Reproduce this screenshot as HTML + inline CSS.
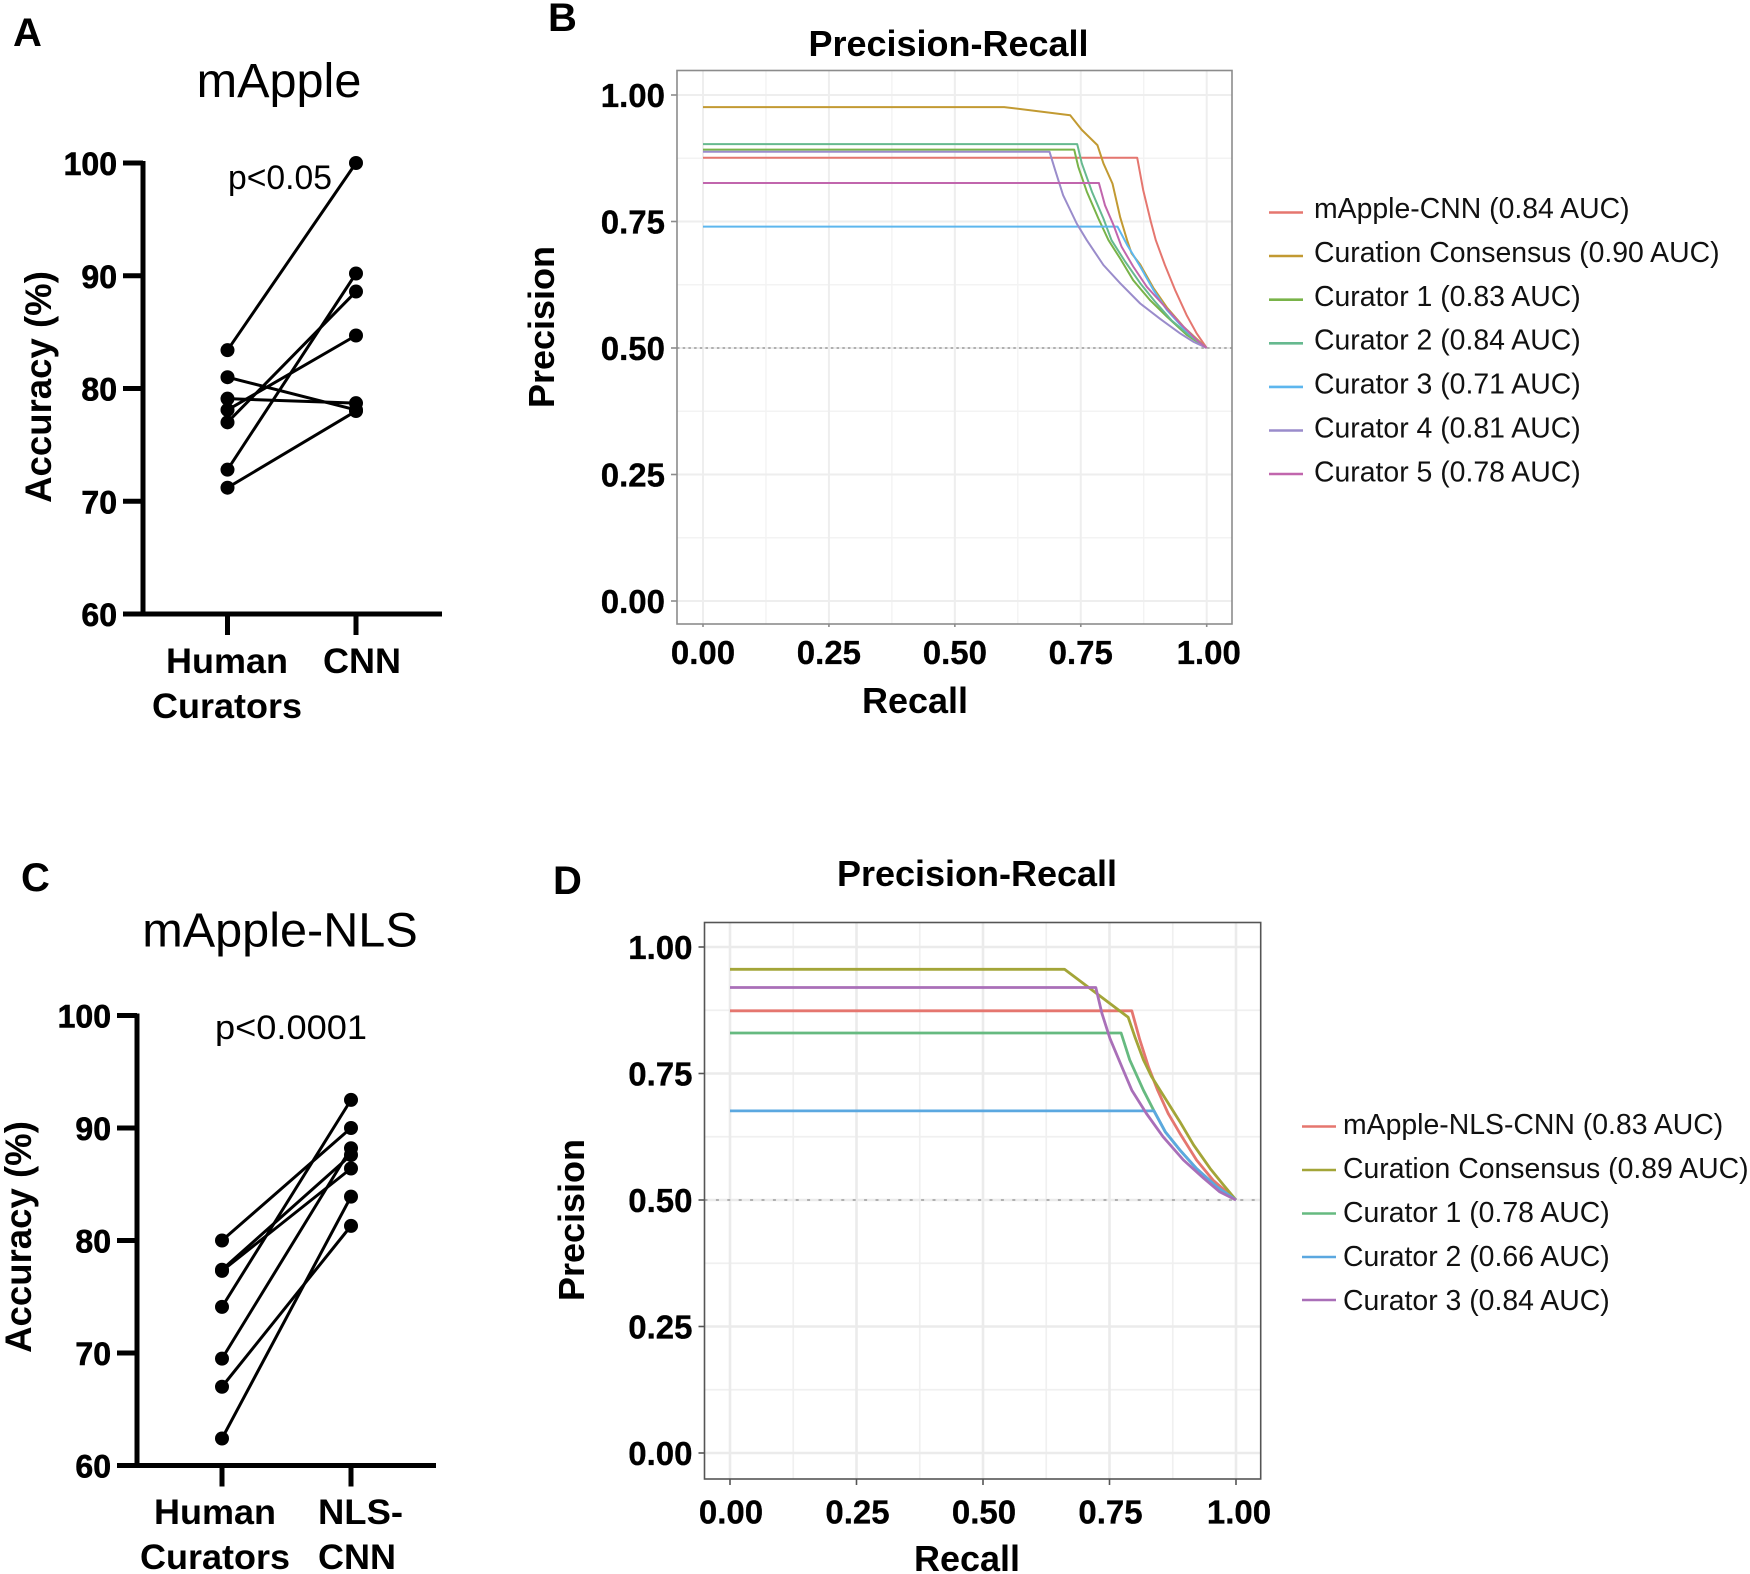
<!DOCTYPE html>
<html lang="en">
<head>
<meta charset="utf-8">
<title>Precision-Recall figure</title>
<style>
html,body{margin:0;padding:0;background:#fff;width:1750px;height:1574px;overflow:hidden}
svg{display:block}
text{font-family:"Liberation Sans",Arial,sans-serif;fill:#000}
.b{font-weight:700}
.tk{font-weight:700;font-size:33px;stroke:#000;stroke-width:.3px}
.at{font-weight:700;font-size:36px}
.pk{font-weight:700;font-size:32px;stroke:#000;stroke-width:.6px}
.leg{font-size:28.4px;fill:#111}
.let{font-weight:700;font-size:40px}
.ttl{font-size:48.6px}
</style>
</head>
<body>
<svg id="fig" xmlns="http://www.w3.org/2000/svg" width="1750" height="1574" viewBox="0 0 1750 1574">
  <rect x="0" y="0" width="1750" height="1574" fill="#fff"/>

  <!-- Panel letters -->
  <text class="let" x="13" y="46">A</text>
  <text class="let" x="548" y="31">B</text>
  <text class="let" x="21" y="891">C</text>
  <text class="let" x="553" y="894">D</text>

  <!-- Panel A text -->
  <g id="panelA">
    <text class="ttl" x="279" y="97" text-anchor="middle">mApple</text>
    <text x="228" y="189" font-size="34" textLength="104" lengthAdjust="spacingAndGlyphs">p&lt;0.05</text>
    <text class="b" font-size="36.6" transform="translate(51 387) rotate(-90)" text-anchor="middle">Accuracy (%)</text>
    <text class="b" font-size="35" x="166" y="673" textLength="122" lengthAdjust="spacingAndGlyphs">Human</text>
    <text class="b" font-size="35" x="152" y="718" textLength="150" lengthAdjust="spacingAndGlyphs">Curators</text>
    <text class="b" font-size="35" x="323" y="673" textLength="78" lengthAdjust="spacingAndGlyphs">CNN</text>
  </g>

  <!-- Panel C text -->
  <g id="panelC">
    <text class="ttl" x="280" y="946.5" text-anchor="middle">mApple-NLS</text>
    <text x="215" y="1039" font-size="34" textLength="152" lengthAdjust="spacingAndGlyphs">p&lt;0.0001</text>
    <text class="b" font-size="36.6" transform="translate(31 1237) rotate(-90)" text-anchor="middle">Accuracy (%)</text>
    <text class="b" font-size="35" x="154" y="1524" textLength="122" lengthAdjust="spacingAndGlyphs">Human</text>
    <text class="b" font-size="35" x="140" y="1569" textLength="150" lengthAdjust="spacingAndGlyphs">Curators</text>
    <text class="b" font-size="35" x="318" y="1524" textLength="85" lengthAdjust="spacingAndGlyphs">NLS-</text>
    <text class="b" font-size="35" x="318" y="1569" textLength="78" lengthAdjust="spacingAndGlyphs">CNN</text>
  </g>

  <!-- Panel B text -->
  <g id="panelB">
    <text class="at" x="948.5" y="56" text-anchor="middle">Precision-Recall</text>
    <text class="at" x="915" y="713" text-anchor="middle">Recall</text>
    <text class="at" transform="translate(554 327) rotate(-90)" text-anchor="middle">Precision</text>
  </g>

  <!-- Panel D text -->
  <g id="panelD">
    <text class="at" x="977" y="886" text-anchor="middle">Precision-Recall</text>
    <text class="at" x="967" y="1571" text-anchor="middle">Recall</text>
    <text class="at" transform="translate(584 1220) rotate(-90)" text-anchor="middle">Precision</text>
  </g>

  <!-- Legend B -->
  <g stroke-width="2.6" fill="none">
    <g><line x1="1269" x2="1303" y1="212.5" y2="212.5" stroke="#e5766f"/><text class="leg" x="1314" y="218">mApple-CNN (0.84 AUC)</text></g>
    <g><line x1="1269" x2="1303" y1="256" y2="256" stroke="#c29a32"/><text class="leg" x="1314" y="262">Curation Consensus (0.90 AUC)</text></g>
    <g><line x1="1269" x2="1303" y1="299.7" y2="299.7" stroke="#79b349"/><text class="leg" x="1314" y="306">Curator 1 (0.83 AUC)</text></g>
    <g><line x1="1269" x2="1303" y1="343.3" y2="343.3" stroke="#66b98f"/><text class="leg" x="1314" y="349.5">Curator 2 (0.84 AUC)</text></g>
    <g><line x1="1269" x2="1303" y1="386.9" y2="386.9" stroke="#5db6ee"/><text class="leg" x="1314" y="393.5">Curator 3 (0.71 AUC)</text></g>
    <g><line x1="1269" x2="1303" y1="430.5" y2="430.5" stroke="#9a8ccb"/><text class="leg" x="1314" y="437.5">Curator 4 (0.81 AUC)</text></g>
    <g><line x1="1269" x2="1303" y1="474" y2="474" stroke="#c166ad"/><text class="leg" x="1314" y="481.5">Curator 5 (0.78 AUC)</text></g>
  </g>

  <!-- Legend D -->
  <g stroke-width="2.6" fill="none">
    <g><line x1="1302" x2="1336" y1="1126.5" y2="1126.5" stroke="#e5766f"/><text class="leg" x="1343" y="1134">mApple-NLS-CNN (0.83 AUC)</text></g>
    <g><line x1="1302" x2="1336" y1="1170" y2="1170" stroke="#a3a538"/><text class="leg" x="1343" y="1178">Curation Consensus (0.89 AUC)</text></g>
    <g><line x1="1302" x2="1336" y1="1213.5" y2="1213.5" stroke="#66ba80"/><text class="leg" x="1343" y="1222">Curator 1 (0.78 AUC)</text></g>
    <g><line x1="1302" x2="1336" y1="1257" y2="1257" stroke="#5ba8e0"/><text class="leg" x="1343" y="1266">Curator 2 (0.66 AUC)</text></g>
    <g><line x1="1302" x2="1336" y1="1300" y2="1300" stroke="#a96fb8"/><text class="leg" x="1343" y="1310">Curator 3 (0.84 AUC)</text></g>
  </g>
</svg>

<script>
// ---------- Panel A data ----------
const aTickLabels = ["100", "90", "80", "70", "60"];
const aTickValues = [100, 90, 80, 70, 60];
const aHuman = [83.4, 72.8, 77.0, 78.1, 81.0, 79.1, 71.2];
const aCnn = [100, 90.2, 88.6, 84.7, 78.1, 78.7, 78.0];

// ---------- Panel C data ----------
const cTickLabels = ["100", "90", "80", "70", "60"];
const cTickValues = [100, 90, 80, 70, 60];
const cHuman = [80.0, 77.4, 77.3, 74.1, 69.5, 67.0, 62.4];
const cCnn = [90.0, 87.6, 86.4, 92.5, 88.2, 81.3, 83.9];

// ---------- Precision-recall tick labels ----------
const prTickValues = [0, 0.25, 0.5, 0.75, 1];
const prTickLabels = ["0.00", "0.25", "0.50", "0.75", "1.00"];
const prMinorValues = [0.125, 0.375, 0.625, 0.875];
const prBaseline = 0.5;

// ---------- Panel B series ----------
const bCnnRecall = [0, 0.862, 0.874, 0.889, 0.899, 0.917, 0.937, 0.960, 0.980, 1];
const bCnnPrecision = [0.876, 0.876, 0.812, 0.750, 0.713, 0.664, 0.615, 0.565, 0.529, 0.5];
const bConsensusRecall = [0, 0.598, 0.729, 0.752, 0.783, 0.795, 0.813, 0.828, 0.842, 0.851, 0.868, 0.894, 0.921, 0.954, 0.980, 1];
const bConsensusPrecision = [0.976, 0.976, 0.960, 0.931, 0.901, 0.865, 0.825, 0.759, 0.713, 0.687, 0.665, 0.619, 0.580, 0.542, 0.518, 0.5];
const bCurator1Recall = [0, 0.737, 0.745, 0.762, 0.785, 0.805, 0.828, 0.854, 0.887, 0.921, 0.960, 1];
const bCurator1Precision = [0.892, 0.892, 0.858, 0.809, 0.756, 0.713, 0.677, 0.634, 0.595, 0.562, 0.526, 0.5];
const bCurator2Recall = [0, 0.743, 0.752, 0.772, 0.795, 0.811, 0.838, 0.868, 0.897, 0.930, 0.964, 1];
const bCurator2Precision = [0.903, 0.903, 0.865, 0.809, 0.756, 0.713, 0.671, 0.628, 0.592, 0.555, 0.526, 0.5];
const bCurator3Recall = [0, 0.823, 0.842, 0.868, 0.894, 0.921, 0.954, 0.980, 1];
const bCurator3Precision = [0.740, 0.740, 0.704, 0.661, 0.615, 0.575, 0.539, 0.516, 0.5];
const bCurator4Recall = [0, 0.688, 0.699, 0.715, 0.742, 0.762, 0.795, 0.828, 0.868, 0.907, 0.947, 0.974, 1];
const bCurator4Precision = [0.888, 0.888, 0.852, 0.802, 0.746, 0.713, 0.664, 0.628, 0.588, 0.558, 0.529, 0.512, 0.5];
const bCurator5Recall = [0, 0.786, 0.798, 0.815, 0.831, 0.854, 0.881, 0.914, 0.947, 0.980, 1];
const bCurator5Precision = [0.826, 0.826, 0.782, 0.743, 0.700, 0.661, 0.621, 0.585, 0.549, 0.516, 0.5];

// ---------- Panel D series ----------
const dCnnRecall = [0, 0.794, 0.810, 0.827, 0.845, 0.866, 0.889, 0.922, 0.955, 1];
const dCnnPrecision = [0.874, 0.874, 0.816, 0.763, 0.717, 0.671, 0.632, 0.579, 0.539, 0.5];
const dConsensusRecall = [0, 0.661, 0.787, 0.800, 0.817, 0.833, 0.850, 0.889, 0.916, 0.949, 0.975, 1];
const dConsensusPrecision = [0.956, 0.956, 0.861, 0.823, 0.777, 0.744, 0.717, 0.655, 0.609, 0.562, 0.530, 0.5];
const dCurator1Recall = [0, 0.773, 0.790, 0.817, 0.838, 0.860, 0.889, 0.922, 0.962, 1];
const dCurator1Precision = [0.830, 0.830, 0.777, 0.717, 0.676, 0.635, 0.599, 0.562, 0.526, 0.5];
const dCurator2Recall = [0, 0.838, 0.860, 0.889, 0.922, 0.962, 1];
const dCurator2Precision = [0.676, 0.676, 0.635, 0.599, 0.562, 0.526, 0.5];
const dCurator3Recall = [0, 0.723, 0.735, 0.751, 0.777, 0.794, 0.823, 0.856, 0.896, 0.936, 0.968, 1];
const dCurator3Precision = [0.920, 0.920, 0.869, 0.819, 0.757, 0.717, 0.671, 0.625, 0.579, 0.543, 0.516, 0.5];

// ---------- Helpers ----------
const SVGNS = "http://www.w3.org/2000/svg";
function mk(tag, parent, attrs) {
  const el = document.createElementNS(SVGNS, tag);
  for (const k in attrs) el.setAttribute(k, attrs[k]);
  parent.appendChild(el);
  return el;
}
function linearScale(v0, p0, v1, p1) {
  return function (v) { return p0 + (v - v0) * (p1 - p0) / (v1 - v0); };
}

// ---------- Paired accuracy charts ----------
function drawPaired(host, prefix, geom, tickValues, tickLabels, left, right) {
  const y = linearScale(100, geom.yTop, 60, geom.yBottom);
  const x = linearScale(0, geom.x0, 1, geom.x1);
  const axisColor = "#000";

  const yAxis = mk("line", host, { x1: geom.axisX, x2: geom.axisX, y1: y(100) - 2, y2: y(60) + 2, stroke: axisColor, "stroke-width": 5 });
  
  

  const xAxis = mk("line", host, { x1: geom.axisX - 20, x2: geom.xEnd, y1: y(60), y2: y(60), stroke: axisColor, "stroke-width": 5 });
  
  

  tickValues.forEach(function (v, i) {
    const tick = mk("line", host, { x1: geom.axisX - 20, x2: geom.axisX, y1: y(v), y2: y(v), stroke: axisColor, "stroke-width": 5 });
    
    
    const lab = mk("text", host, { x: geom.axisX - 26, y: y(v) + 12, "text-anchor": "end", class: "pk" });
    lab.textContent = tickLabels[i];
    
    
  });

  [0, 1].forEach(function (c) {
    const tick = mk("line", host, { x1: x(c), x2: x(c), y1: y(60), y2: y(60) + 21, stroke: axisColor, "stroke-width": 5 });
    
    
  });

  left.forEach(function (v, i) {
    const link = mk("line", host, { x1: x(0), y1: y(v), x2: x(1), y2: y(right[i]), stroke: "#000", "stroke-width": 3 });
    
    
    const d0 = mk("circle", host, { cx: x(0), cy: y(v), r: 7, fill: "#000" });
    
    
    const d1 = mk("circle", host, { cx: x(1), cy: y(right[i]), r: 7, fill: "#000" });
    
    
  });
}

drawPaired(document.getElementById("panelA"), "panel-a",
  { yTop: 163, yBottom: 614, x0: 227.5, x1: 356, axisX: 143, xEnd: 442 },
  aTickValues, aTickLabels, aHuman, aCnn);
drawPaired(document.getElementById("panelC"), "panel-c",
  { yTop: 1015.5, yBottom: 1465.5, x0: 222, x1: 351, axisX: 137, xEnd: 436 },
  cTickValues, cTickLabels, cHuman, cCnn);

// ---------- Precision-recall charts ----------
function drawPR(host, prefix, g, series) {
  const x = linearScale(0, g.x0, 1, g.x1);
  const y = linearScale(0, g.y0, 1, g.y1);

  prMinorValues.forEach(function (v) {
    const gy = mk("line", host, { x1: g.left, x2: g.right, y1: y(v), y2: y(v), stroke: g.minorColor, "stroke-width": g.minor });
    
    
    const gx = mk("line", host, { x1: x(v), x2: x(v), y1: g.top, y2: g.bottom, stroke: g.minorColor, "stroke-width": g.minor });
    
    
  });
  prTickValues.forEach(function (v, i) {
    const gy = mk("line", host, { x1: g.left, x2: g.right, y1: y(v), y2: y(v), stroke: g.majorColor, "stroke-width": g.major });
    
    
    const gx = mk("line", host, { x1: x(v), x2: x(v), y1: g.top, y2: g.bottom, stroke: g.majorColor, "stroke-width": g.major });
    
    

    const ty = mk("line", host, { x1: g.left - 6, x2: g.left, y1: y(v), y2: y(v), stroke: g.border, "stroke-width": 1.6 });
    
    
    const tx = mk("line", host, { x1: x(v), x2: x(v), y1: g.bottom, y2: g.bottom + g.xTick, stroke: g.border, "stroke-width": 1.6 });
    
    

    const ly = mk("text", host, { x: g.left - 12, y: y(v) + 12, "text-anchor": "end", class: "tk" });
    ly.textContent = prTickLabels[i];
    
    
    const lx = mk("text", host, { x: x(v) + g.labelDx + (i === 4 ? 2 : 0), y: g.xLabelY, "text-anchor": "middle", class: "tk" });
    lx.textContent = prTickLabels[i];
    
    
  });

  const ref = mk("line", host, { x1: g.left, x2: g.right, y1: y(prBaseline), y2: y(prBaseline), stroke: "#b0b0b0", "stroke-width": 2, "stroke-dasharray": g.dash });
  
  

  series.forEach(function (s) {
    const pts = s.recall.map(function (r, i) { return x(r).toFixed(1) + "," + y(s.precision[i]).toFixed(1); }).join(" ");
    const line = mk("polyline", host, { points: pts, fill: "none", stroke: s.color, "stroke-width": g.lw, "stroke-linejoin": "round" });
    
    
  });

  const frame = mk("rect", host, { x: g.left, y: g.top, width: g.right - g.left, height: g.bottom - g.top, fill: "none", stroke: g.border, "stroke-width": g.frame });
  
  
}

drawPR(document.getElementById("panelB"), "panel-b",
  { left: 677, right: 1232, top: 70.5, bottom: 624, x0: 703, x1: 1206.7, y0: 601, y1: 95,
    xLabelY: 664, labelDx: 0, xTick: 3, major: 2, majorColor: "#eeeeee", minor: 1.4, minorColor: "#f3f3f3",
    dash: "2.5 3.2", lw: 2, border: "#8c8c8c", frame: 1.6 },
  [
    { key: "mapple-cnn", recall: bCnnRecall, precision: bCnnPrecision, color: "#e5766f" },
    { key: "curation-consensus", recall: bConsensusRecall, precision: bConsensusPrecision, color: "#c29a32" },
    { key: "curator-1", recall: bCurator1Recall, precision: bCurator1Precision, color: "#79b349" },
    { key: "curator-2", recall: bCurator2Recall, precision: bCurator2Precision, color: "#66b98f" },
    { key: "curator-3", recall: bCurator3Recall, precision: bCurator3Precision, color: "#5db6ee" },
    { key: "curator-4", recall: bCurator4Recall, precision: bCurator4Precision, color: "#9a8ccb" },
    { key: "curator-5", recall: bCurator5Recall, precision: bCurator5Precision, color: "#c166ad" }
  ]);

drawPR(document.getElementById("panelD"), "panel-d",
  { left: 704.5, right: 1260.7, top: 922.5, bottom: 1479, x0: 730, x1: 1236, y0: 1453, y1: 947,
    xLabelY: 1523.5, labelDx: 1, xTick: 6, major: 2.6, majorColor: "#ebebeb", minor: 1.7, minorColor: "#f0f0f0",
    dash: "3 8.4", lw: 2.8, border: "#555", frame: 1.6 },
  [
    { key: "mapple-nls-cnn", recall: dCnnRecall, precision: dCnnPrecision, color: "#e5766f" },
    { key: "curation-consensus", recall: dConsensusRecall, precision: dConsensusPrecision, color: "#a3a538" },
    { key: "curator-1", recall: dCurator1Recall, precision: dCurator1Precision, color: "#66ba80" },
    { key: "curator-2", recall: dCurator2Recall, precision: dCurator2Precision, color: "#5ba8e0" },
    { key: "curator-3", recall: dCurator3Recall, precision: dCurator3Precision, color: "#a96fb8" }
  ]);
</script>
</body>
</html>
